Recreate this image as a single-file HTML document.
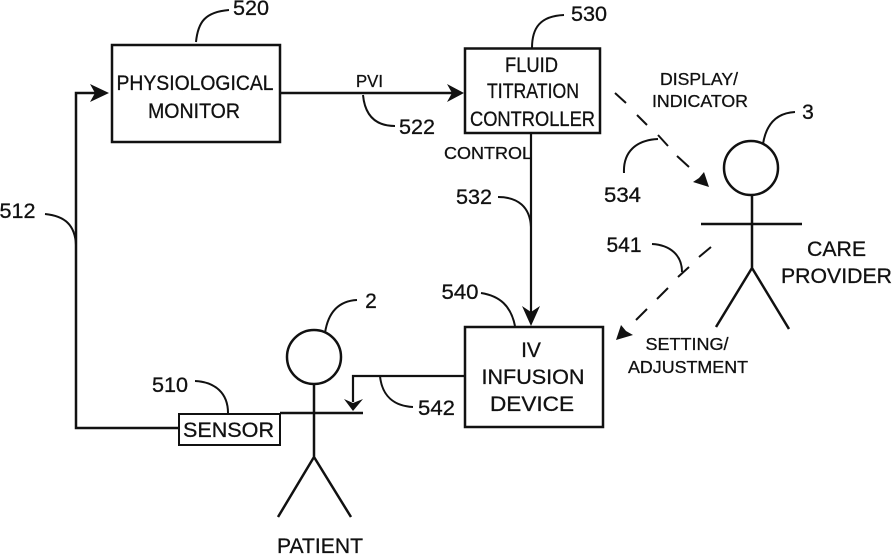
<!DOCTYPE html>
<html><head><meta charset="utf-8"><style>
html,body{margin:0;padding:0;background:#fff}
svg{display:block}
text{font-family:"Liberation Sans",sans-serif;fill:#111;stroke:#111;stroke-width:.3;text-anchor:middle}
</style></head><body>
<svg width="892" height="554" viewBox="0 0 892 554" xmlns="http://www.w3.org/2000/svg">
<g fill="none" stroke="#111" stroke-width="2.5">
<!-- boxes -->
<rect x="112" y="45" width="168" height="97"/>
<rect x="465" y="48.5" width="135" height="84.5"/>
<rect x="465" y="327" width="138" height="100"/>
<rect x="179" y="414" width="101" height="31" stroke-width="2"/>
<!-- main connectors -->
<path d="M280 93H452"/>
<path d="M531 133V315" stroke-width="2.2"/>
<path d="M179 428H76V93H98"/>
<path d="M465 376H353V402" stroke-width="2.2"/>
<!-- patient -->
<circle cx="314" cy="357" r="27"/>
<path d="M314 384V458M280 413H363M314 457L278 517M314 457L351 517"/>
<!-- care provider -->
<circle cx="751" cy="168" r="27"/>
<path d="M752 195V268M701 224H802M752 268L716 327M752 268L789 329"/>
<!-- dashed -->
<path d="M615 93L626 103M637 115L647 125M658 135L668 146M677 156L689 167" stroke-width="2"/>
<path d="M711 247L699 257M689 267L678 277M668 288L657 299M647 309L636 320" stroke-width="2"/>
<!-- leaders -->
<g stroke-width="2">
<path d="M196 42C198 22 205 12 229 10"/>
<path d="M532 48C532 28 540 16 564 15"/>
<path d="M363 95C365 116 376 126 395 126"/>
<path d="M498 197C518 197 530 207 531 227"/>
<path d="M624 173C623 152 636 140 658 139"/>
<path d="M763 144C766 125 776 113 795 112"/>
<path d="M652 244C670 245 682 255 682 272"/>
<path d="M481 293C500 296 511 306 515 326"/>
<path d="M325 333C328 313 338 301 357 300"/>
<path d="M195 381C215 382 228 393 228 413"/>
<path d="M380 376C382 396 394 406 413 407"/>
<path d="M45 214C65 216 75 225 76 245"/>
</g>
</g>
<!-- arrowheads -->
<g fill="#111" stroke="none">
<path d="M464 93L447 84L452 93L447 102Z"/>
<path d="M531 326L522 306L531 312L540 306Z"/>
<path d="M109 93L90 84L95 93L90 102Z"/>
<path d="M353 411L344 399L353 403L363 399Z"/>
<path d="M709 187L693 182L699 178L704 172Z"/>
<path d="M616 340L633 335L626 331L621 325Z"/>
</g>
<!-- labels -->
<g font-size="21">
<text x="195" y="90" textLength="157" lengthAdjust="spacingAndGlyphs">PHYSIOLOGICAL</text>
<text x="194" y="118" textLength="92" lengthAdjust="spacingAndGlyphs">MONITOR</text>
<text x="531.5" y="72" textLength="53" lengthAdjust="spacingAndGlyphs">FLUID</text>
<text x="533" y="98" textLength="92" lengthAdjust="spacingAndGlyphs">TITRATION</text>
<text x="532.5" y="126" textLength="125" lengthAdjust="spacingAndGlyphs">CONTROLLER</text>
<text x="531" y="357">IV</text>
<text x="533" y="384" textLength="103" lengthAdjust="spacingAndGlyphs">INFUSION</text>
<text x="532" y="411" textLength="84" lengthAdjust="spacingAndGlyphs">DEVICE</text>
<text x="228.5" y="437" textLength="91" lengthAdjust="spacingAndGlyphs">SENSOR</text>
<text x="320" y="553" textLength="86" lengthAdjust="spacingAndGlyphs">PATIENT</text>
<text x="836.5" y="256" textLength="59" lengthAdjust="spacingAndGlyphs">CARE</text>
<text x="836.5" y="283" textLength="111" lengthAdjust="spacingAndGlyphs">PROVIDER</text>
</g>
<g font-size="17.5">
<text x="369.5" y="87" textLength="27" lengthAdjust="spacingAndGlyphs">PVI</text>
<text x="488" y="159" textLength="88" lengthAdjust="spacingAndGlyphs">CONTROL</text>
<text x="699" y="85" textLength="78" lengthAdjust="spacingAndGlyphs">DISPLAY/</text>
<text x="700" y="107" textLength="96" lengthAdjust="spacingAndGlyphs">INDICATOR</text>
<text x="687" y="350" textLength="83" lengthAdjust="spacingAndGlyphs">SETTING/</text>
<text x="688" y="373" textLength="120" lengthAdjust="spacingAndGlyphs">ADJUSTMENT</text>
</g>
<g font-size="21">
<text x="251" y="15" textLength="36" lengthAdjust="spacingAndGlyphs">520</text>
<text x="589" y="21" textLength="36" lengthAdjust="spacingAndGlyphs">530</text>
<text x="417" y="134" textLength="36" lengthAdjust="spacingAndGlyphs">522</text>
<text x="474" y="204" textLength="36" lengthAdjust="spacingAndGlyphs">532</text>
<text x="622.5" y="202" textLength="37" lengthAdjust="spacingAndGlyphs">534</text>
<text x="808" y="119">3</text>
<text x="624" y="252" textLength="35" lengthAdjust="spacingAndGlyphs">541</text>
<text x="460" y="299" textLength="37" lengthAdjust="spacingAndGlyphs">540</text>
<text x="371" y="308">2</text>
<text x="170" y="392" textLength="36" lengthAdjust="spacingAndGlyphs">510</text>
<text x="436.5" y="415" textLength="37" lengthAdjust="spacingAndGlyphs">542</text>
<text x="17.5" y="218" textLength="36" lengthAdjust="spacingAndGlyphs">512</text>
</g>
</svg>
</body></html>
